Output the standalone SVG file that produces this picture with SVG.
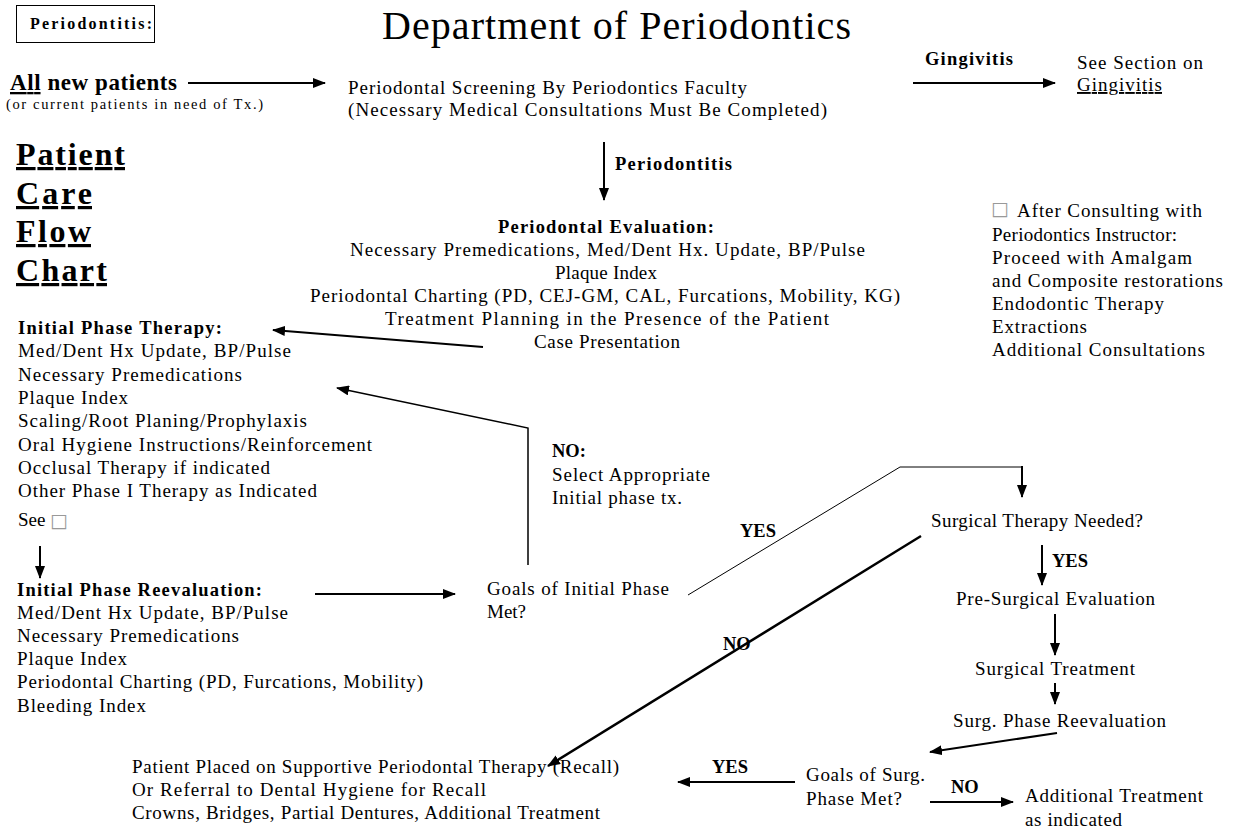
<svg xmlns="http://www.w3.org/2000/svg" width="1235" height="832" viewBox="0 0 1235 832">
<style>
text{font-family:"Liberation Serif","Times New Roman",serif;font-size:19px;fill:#000}
.b{font-weight:bold;font-size:18.5px}
.sq{font-family:"DejaVu Sans",sans-serif;font-size:19px;fill:#999}
.big{font-size:32px;font-weight:bold;text-decoration:underline}
.c{stroke:#000;stroke-width:2;fill:none}
.thin{stroke:#000;stroke-width:1;fill:none}
.a{marker-end:url(#ah)}
</style>
<defs>
<marker id="ah" markerUnits="userSpaceOnUse" markerWidth="13" markerHeight="10" refX="12" refY="5" orient="auto">
<path d="M0,0 L13,5 L0,10 z" fill="#000"/>
</marker>
</defs>
<rect width="1235" height="832" fill="#fff"/>

<g id="header">
<rect x="16.5" y="5.5" width="138" height="37" fill="none" stroke="#000" stroke-width="1"/>
<text class="b" x="30" y="29" style="font-size:16px" textLength="122" lengthAdjust="spacing">Periodontitis:</text>
<text x="382" y="39" style="font-size:40px" textLength="469" lengthAdjust="spacing">Department of Periodontics</text>
</g>

<g id="title-side">
<text class="big" x="16" y="165" textLength="109" lengthAdjust="spacing">Patient</text>
<text class="big" x="16" y="204" textLength="76" lengthAdjust="spacing">Care</text>
<text class="big" x="16" y="242" textLength="75" lengthAdjust="spacing">Flow</text>
<text class="big" x="16" y="281" textLength="91" lengthAdjust="spacing">Chart</text>
</g>

<g id="new-patients">
<text class="b" x="10" y="90" style="font-size:23px" textLength="167" lengthAdjust="spacing"><tspan style="text-decoration:underline">All</tspan> new patients</text>
<text x="6" y="109" style="font-size:14.5px" textLength="257" lengthAdjust="spacing">(or current patients in need of Tx.)</text>
</g>

<g id="screening">
<text x="348" y="94" textLength="399" lengthAdjust="spacing">Periodontal Screening By Periodontics Faculty</text>
<text x="348" y="116" textLength="479" lengthAdjust="spacing">(Necessary Medical Consultations Must Be Completed)</text>
</g>

<g id="gingivitis">
<text x="1077" y="69" textLength="126" lengthAdjust="spacing">See Section on</text>
<text x="1077" y="91" style="text-decoration:underline" textLength="85" lengthAdjust="spacing">Gingivitis</text>
</g>

<g id="evaluation">
<text class="b" x="498" y="233" textLength="216" lengthAdjust="spacing">Periodontal Evaluation:</text>
<text x="350" y="256" textLength="515" lengthAdjust="spacing">Necessary Premedications, Med/Dent Hx. Update, BP/Pulse</text>
<text x="555" y="279" textLength="102" lengthAdjust="spacing">Plaque Index</text>
<text x="310" y="302" textLength="590" lengthAdjust="spacing">Periodontal Charting (PD, CEJ-GM, CAL, Furcations, Mobility, KG)</text>
<text x="385" y="325" textLength="444" lengthAdjust="spacing">Treatment Planning in the Presence of the Patient</text>
<text x="534" y="348" textLength="146" lengthAdjust="spacing">Case Presentation</text>
</g>

<g id="consult-note">
<text class="sq" x="991" y="215">□</text>
<text x="1017" y="217" textLength="185" lengthAdjust="spacing">After Consulting with</text>
<text x="992" y="241" textLength="185" lengthAdjust="spacing">Periodontics Instructor:</text>
<text x="992" y="264" textLength="200" lengthAdjust="spacing">Proceed with Amalgam</text>
<text x="992" y="287" textLength="231" lengthAdjust="spacing">and Composite restorations</text>
<text x="992" y="310" textLength="172" lengthAdjust="spacing">Endodontic Therapy</text>
<text x="992" y="333" textLength="95" lengthAdjust="spacing">Extractions</text>
<text x="992" y="356" textLength="213" lengthAdjust="spacing">Additional Consultations</text>
</g>

<g id="initial-phase">
<text class="b" x="18" y="334" textLength="204" lengthAdjust="spacing">Initial Phase Therapy:</text>
<text x="18" y="357" textLength="273" lengthAdjust="spacing">Med/Dent Hx Update, BP/Pulse</text>
<text x="18" y="381" textLength="224" lengthAdjust="spacing">Necessary Premedications</text>
<text x="18" y="404" textLength="110" lengthAdjust="spacing">Plaque Index</text>
<text x="18" y="427" textLength="289" lengthAdjust="spacing">Scaling/Root Planing/Prophylaxis</text>
<text x="18" y="451" textLength="354" lengthAdjust="spacing">Oral Hygiene Instructions/Reinforcement</text>
<text x="18" y="474" textLength="252" lengthAdjust="spacing">Occlusal Therapy if indicated</text>
<text x="18" y="497" textLength="299" lengthAdjust="spacing">Other Phase I Therapy as Indicated</text>
<text x="18" y="526">See</text>
<text class="sq" x="50" y="527">□</text>
</g>

<g id="reevaluation">
<text class="b" x="17" y="596" textLength="245" lengthAdjust="spacing">Initial Phase Reevaluation:</text>
<text x="17" y="619" textLength="271" lengthAdjust="spacing">Med/Dent Hx Update, BP/Pulse</text>
<text x="17" y="642" textLength="222" lengthAdjust="spacing">Necessary Premedications</text>
<text x="17" y="665" textLength="110" lengthAdjust="spacing">Plaque Index</text>
<text x="17" y="688" textLength="406" lengthAdjust="spacing">Periodontal Charting (PD, Furcations, Mobility)</text>
<text x="17" y="712" textLength="129" lengthAdjust="spacing">Bleeding Index</text>
</g>

<g id="goals-initial">
<text x="487" y="595" textLength="182" lengthAdjust="spacing">Goals of Initial Phase</text>
<text x="487" y="618">Met?</text>
</g>

<g id="select-tx">
<text x="552" y="481" textLength="158" lengthAdjust="spacing">Select Appropriate</text>
<text x="552" y="504" textLength="130" lengthAdjust="spacing">Initial phase tx.</text>
</g>

<g id="surgical-needed">
<text x="931" y="527" textLength="212" lengthAdjust="spacing">Surgical Therapy Needed?</text>
</g>
<g id="pre-surgical">
<text x="956" y="605" textLength="199" lengthAdjust="spacing">Pre-Surgical Evaluation</text>
</g>
<g id="surgical-treatment">
<text x="975" y="675" textLength="160" lengthAdjust="spacing">Surgical Treatment</text>
</g>
<g id="surg-reeval">
<text x="953" y="727" textLength="213" lengthAdjust="spacing">Surg. Phase Reevaluation</text>
</g>
<g id="goals-surg">
<text x="806" y="781" textLength="119" lengthAdjust="spacing">Goals of Surg.</text>
<text x="806" y="805" textLength="96" lengthAdjust="spacing">Phase Met?</text>
</g>
<g id="additional">
<text x="1025" y="802" textLength="178" lengthAdjust="spacing">Additional Treatment</text>
<text x="1025" y="826" textLength="97" lengthAdjust="spacing">as indicated</text>
</g>
<g id="supportive">
<text x="132" y="773" textLength="487" lengthAdjust="spacing">Patient Placed on Supportive Periodontal Therapy (Recall)</text>
<text x="132" y="796" textLength="354" lengthAdjust="spacing">Or Referral to Dental Hygiene for Recall</text>
<text x="132" y="819" textLength="468" lengthAdjust="spacing">Crowns, Bridges, Partial Dentures, Additional Treatment</text>
</g>

<g id="connectors">
<line class="c a" x1="188" y1="83" x2="325" y2="83"/>
<line class="c a" x1="913" y1="83" x2="1055" y2="83"/>
<line class="c a" x1="604" y1="142" x2="604" y2="200"/>
<line class="c a" x1="483" y1="347" x2="273" y2="330"/>
<polyline class="c a" points="528,565 528,428 337,388" style="stroke-width:1.5"/>
<line class="c a" x1="40" y1="546" x2="40" y2="578"/>
<line class="c a" x1="315" y1="594" x2="455" y2="594"/>
<polyline class="thin" points="688,595 900,467 1022,467"/>
<line class="c a" x1="1022" y1="466" x2="1022" y2="497"/>
<line class="c a" x1="921" y1="536" x2="548" y2="766" style="stroke-width:2.5"/>
<line class="c a" x1="1042" y1="545" x2="1042" y2="585"/>
<line class="c a" x1="1055" y1="614" x2="1055" y2="655"/>
<line class="c a" x1="1055" y1="683" x2="1055" y2="704"/>
<line class="c a" x1="1057" y1="733" x2="930" y2="752"/>
<line class="c a" x1="795" y1="782" x2="678" y2="782"/>
<line class="c a" x1="930" y1="802" x2="1013" y2="802"/>
<text class="b" x="925" y="65" textLength="88" lengthAdjust="spacing">Gingivitis</text>
<text class="b" x="615" y="170" textLength="117" lengthAdjust="spacing">Periodontitis</text>
<text class="b" x="552" y="457">NO:</text>
<text class="b" x="740" y="537">YES</text>
<text class="b" x="723" y="650">NO</text>
<text class="b" x="1052" y="567">YES</text>
<text class="b" x="712" y="773">YES</text>
<text class="b" x="951" y="793">NO</text>
</g>
</svg>
